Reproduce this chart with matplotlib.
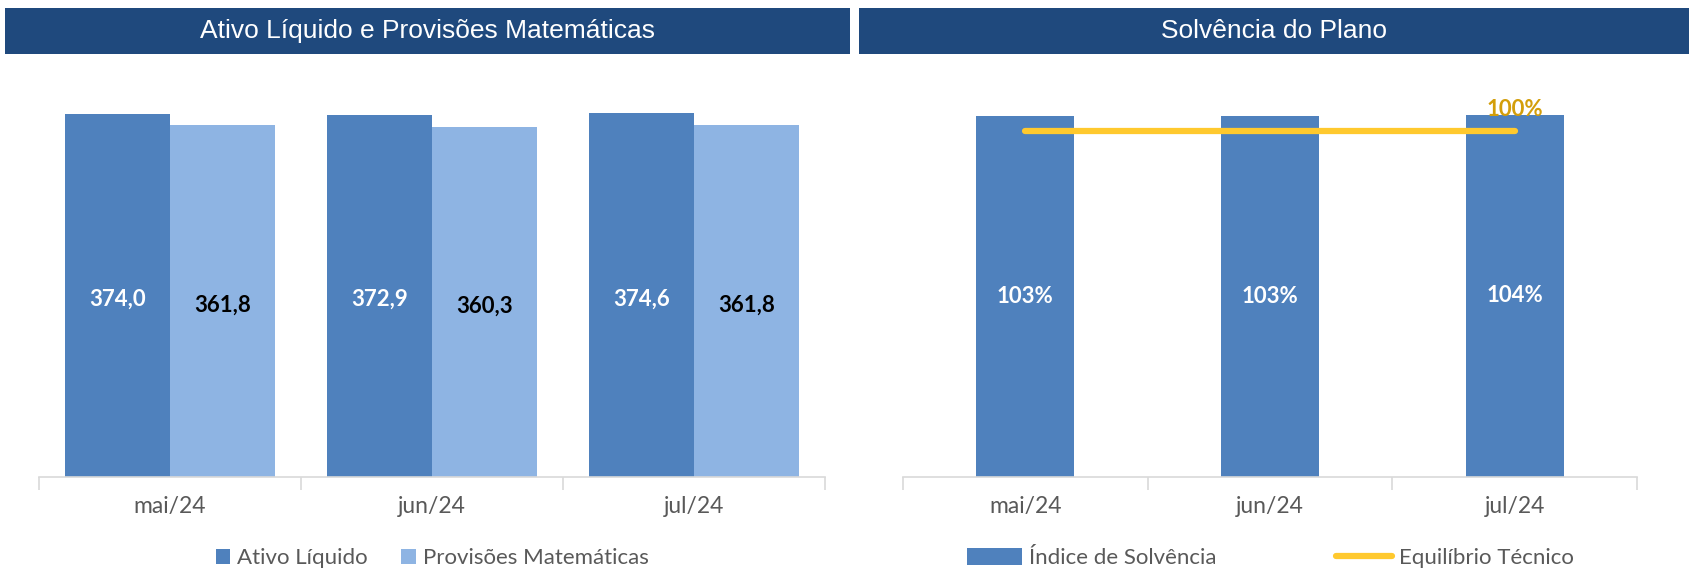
import matplotlib
matplotlib.use("Agg")
import matplotlib.pyplot as plt
from matplotlib.patches import Rectangle, Patch
from matplotlib.lines import Line2D
import numpy as np

# ---- data ----
months = ["mai/24", "jun/24", "jul/24"]
ativo_liquido = [374.0, 372.9, 374.6]
provisoes = [361.8, 360.3, 361.8]
solvencia = [103.4, 103.4, 103.6]
equilibrio = [100, 100, 100]
left_title = "Ativo Líquido e Provisões Matemáticas"
right_title = "Solvência do Plano"

# ---- style ----
C_DARK = "#4F81BD"
C_LIGHT = "#8EB4E3"
C_HEAD = "#1F497D"
C_LINE = "#FFC92E"
C_GOLD = "#D39E0A"
C_TICK = "#595959"
C_AXIS = "#D9D9D9"
BODY = ["Lato", "DejaVu Sans"]
HEAD = ["Liberation Sans Narrow", "Liberation Sans", "DejaVu Sans"]

W, H = 1695, 572
fig = plt.figure(figsize=(W / 100, H / 100), dpi=100)
fig.patch.set_facecolor("white")


def fx(px):
    return px / W


def fy(py):
    return 1 - py / H


# title bars
for x0, x1, txt in [(5, 850, left_title), (859, 1689, right_title)]:
    fig.patches.append(Rectangle((fx(x0), fy(54)), fx(x1 - x0), (54 - 8) / H,
                                 transform=fig.transFigure, facecolor=C_HEAD,
                                 edgecolor="none", zorder=0))
    fig.text(fx((x0 + x1) / 2), fy(31), txt, color="white", fontsize=19,
             family=HEAD, ha="center", va="center")

bottom = (H - 477) / H
height = (477 - 81) / H
ax1 = fig.add_axes([fx(39), bottom, fx(825 - 39), height])
ax2 = fig.add_axes([fx(903), bottom, fx(1637 - 903), height])

x = np.arange(len(months))


def style_axis(ax):
    for s in ["top", "right", "left"]:
        ax.spines[s].set_visible(False)
    ax.spines["bottom"].set_color(C_AXIS)
    ax.spines["bottom"].set_linewidth(1.2)
    ax.set_yticks([])
    ax.set_xlim(-0.5, len(months) - 0.5)
    ax.set_xticks(x)
    ax.set_xticklabels(months, fontsize=16.5, color=C_TICK, family=BODY)
    ax.tick_params(axis="x", which="major", length=0, pad=14)
    ax.set_xticks(np.arange(-0.5, len(months)), minor=True)
    ax.tick_params(axis="x", which="minor", length=9, color=C_AXIS, width=1.2)


# left chart
w = 0.4
ax1.bar(x - w / 2, ativo_liquido, w, color=C_DARK, label="Ativo Líquido")
ax1.bar(x + w / 2, provisoes, w, color=C_LIGHT, label="Provisões Matemáticas")
ax1.set_ylim(0, 374.0 * 396 / 363.5)
style_axis(ax1)
for i, v in enumerate(ativo_liquido):
    ax1.text(x[i] - w / 2, v / 2 - 4, f"{v:.1f}".replace(".", ","), ha="center",
             va="center", color="white", fontsize=16, fontweight="bold", family=BODY)
for i, v in enumerate(provisoes):
    ax1.text(x[i] + w / 2, v / 2 - 4, f"{v:.1f}".replace(".", ","), ha="center",
             va="center", color="black", fontsize=16, fontweight="bold", family=BODY)

leg1 = ax1.legend(loc="center", bbox_to_anchor=(0.5, -0.205), ncol=2, frameon=False,
                  handlelength=0.67, handleheight=0.67, handletextpad=0.3,
                  columnspacing=1.5, prop={"family": BODY, "size": 16})
for t in leg1.get_texts():
    t.set_color(C_TICK)

# right chart
ymin2 = 22
ax2.bar(x, solvencia, w, color=C_DARK, label="Índice de Solvência")
ax2.plot(x, equilibrio, color=C_LINE, lw=4.5, solid_capstyle="round",
         label="Equilíbrio Técnico")
ax2.set_ylim(ymin2, ymin2 + (103.4 - ymin2) * 396 / 361.3)
style_axis(ax2)
for i, v in enumerate(solvencia):
    ax2.text(x[i], (v + ymin2) / 2, f"{v:.0f}%", ha="center", va="center",
             color="white", fontsize=16, fontweight="bold", family=BODY)
ax2.annotate(f"{equilibrio[-1]:.0f}%", (x[-1], equilibrio[-1]), xytext=(0, 8),
             textcoords="offset points", ha="center", va="bottom", color=C_GOLD,
             fontsize=16, fontweight="bold", family=BODY)

handles = [Patch(facecolor=C_DARK, label="Índice de Solvência"),
           Line2D([0], [0], color=C_LINE, lw=4.5, solid_capstyle="round",
                  label="Equilíbrio Técnico")]
leg2 = ax2.legend(handles=handles, loc="center", bbox_to_anchor=(0.5, -0.205), ncol=2,
                  frameon=False, handlelength=2.5, handleheight=0.75, handletextpad=0.3,
                  columnspacing=5.4, prop={"family": BODY, "size": 16})
for t in leg2.get_texts():
    t.set_color(C_TICK)

fig.savefig("out.png", dpi=100, facecolor="white")
